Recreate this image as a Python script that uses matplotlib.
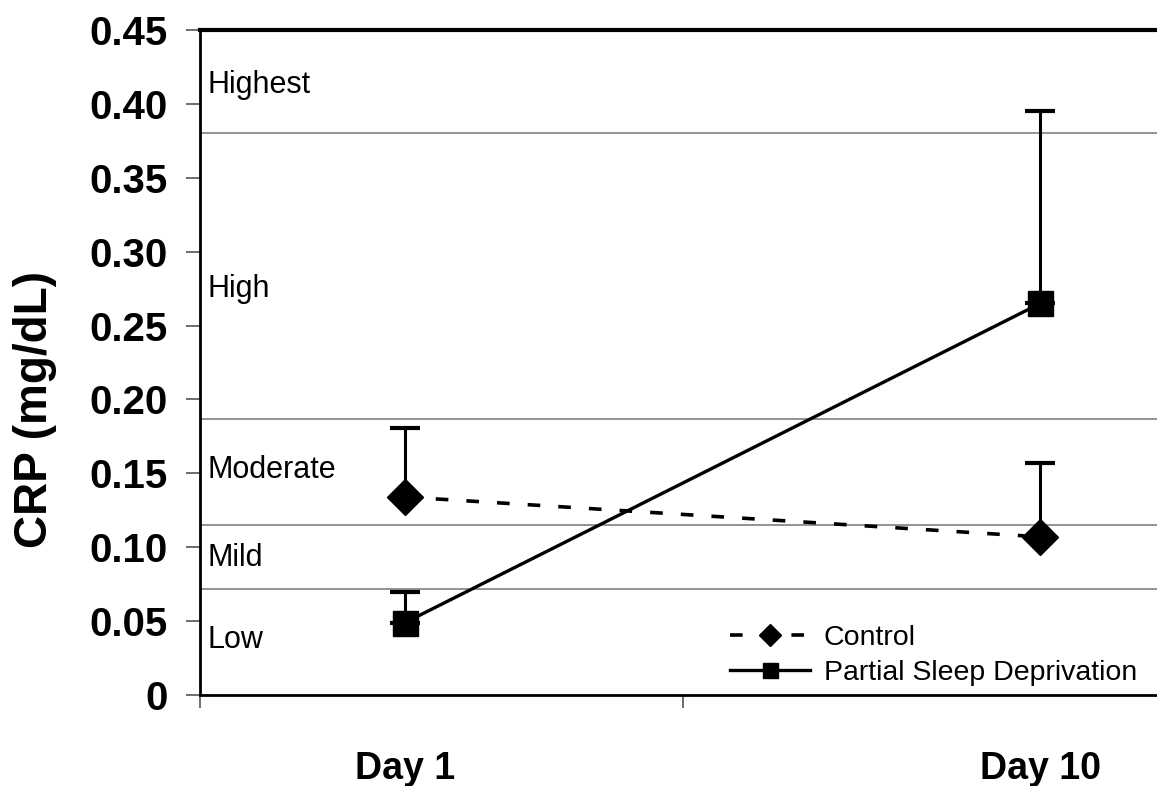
"""CRP by day for control vs partial sleep deprivation, with risk bands."""
import matplotlib.pyplot as plt
import numpy as np

days = ["Day 1", "Day 10"]
control_mean = [0.134, 0.107]
control_err = [0.047, 0.050]
psd_mean = [0.049, 0.265]
psd_err = [0.021, 0.130]

band_edges = [0.072, 0.115, 0.187, 0.380]
band_names = ["Low", "Mild", "Moderate", "High", "Highest"]
band_label_y = [0.037, 0.093, 0.152, 0.275, 0.413]

yticks = np.arange(0, 0.46, 0.05)
ytick_labels = ["0"] + ["%.2f" % v for v in yticks[1:]]


def main() -> None:
    plt.rcParams["font.family"] = ["Liberation Sans", "DejaVu Sans"]
    fig = plt.figure(figsize=(11.57, 7.86), dpi=100)
    ax = fig.add_axes([0.1729, 0.1158, 0.835, 0.846])

    x = np.arange(len(days))

    # risk band boundaries
    for edge in band_edges:
        ax.axhline(edge, color="#8a8a8a", lw=1.3, zorder=1)
    for name, yv in zip(band_names, band_label_y):
        ax.text(0.008, yv, name, transform=ax.get_yaxis_transform(),
                fontsize=22, va="center", ha="left")

    ax.errorbar(x, control_mean, yerr=[np.zeros(len(x)), control_err],
                fmt="none", ecolor="black", elinewidth=2.2, capsize=11,
                capthick=3, zorder=3)
    ax.errorbar(x, psd_mean, yerr=[np.zeros(len(x)), psd_err],
                fmt="none", ecolor="black", elinewidth=2.2, capsize=11,
                capthick=3, zorder=3)
    ax.plot(x, control_mean, color="black", lw=2.6, dashes=(3.5, 5),
            marker="D", markersize=18, zorder=4, label="Control")
    ax.plot(x, psd_mean, color="black", lw=2.4, marker="s",
            markersize=18, zorder=4, label="Partial Sleep Deprivation")

    ax.set_xlim(-0.3228, 1.198)
    ax.set_ylim(0, 0.45)
    ax.set_yticks(yticks)
    ax.set_yticklabels(ytick_labels, fontsize=29, fontweight="bold")
    ax.tick_params(axis="y", length=10, width=1.2, color="#555555", pad=13)
    ax.set_xticks(x)
    ax.set_xticklabels(days, fontsize=27, fontweight="bold")
    ax.tick_params(axis="x", which="major", length=0, pad=40)
    ax.set_xticks([-0.3228, 0.4378], minor=True)
    ax.tick_params(axis="x", which="minor", length=9, width=1.2,
                   color="#555555")

    ax.set_ylabel("CRP (mg/dL)", fontsize=33, fontweight="bold")
    ax.yaxis.set_label_coords(-0.148, 0.43)

    for side in ["left", "bottom"]:
        ax.spines[side].set_linewidth(2)
    ax.spines["top"].set_linewidth(3)
    ax.spines["right"].set_visible(False)

    ax.legend(loc="lower left", bbox_to_anchor=(0.522, -0.025),
              frameon=False, fontsize=20.5, handlelength=2.8,
              handletextpad=0.5, labelspacing=0.3, markerscale=0.6)

    fig.savefig("out.png", dpi=100)


if __name__ == "__main__":
    main()
